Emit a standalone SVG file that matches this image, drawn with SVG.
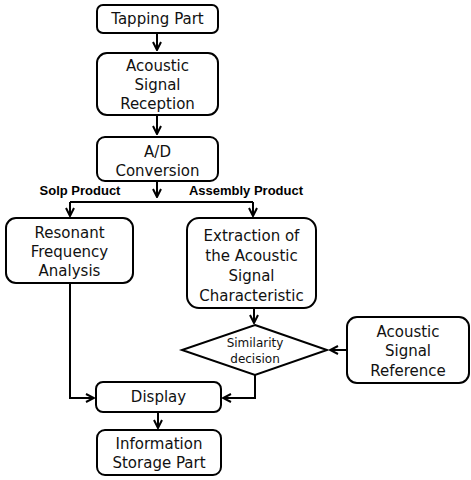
<svg xmlns="http://www.w3.org/2000/svg" width="471" height="480" viewBox="0 0 471 480">
<defs>
<marker id="ah" viewBox="0 0 10 10" refX="9" refY="5" markerWidth="10" markerHeight="10" markerUnits="userSpaceOnUse" orient="auto">
<path d="M1,1 L9,5 L1,9" fill="none" stroke="#000" stroke-width="2"/>
</marker>
</defs>
<style>
.box{fill:#fff;stroke:#000;stroke-width:2}
.t{font-family:"DejaVu Sans","Noto Sans",sans-serif;font-size:15px;fill:#111;text-anchor:middle;dominant-baseline:central}
.s{font-size:12px}
.b{font-family:"Liberation Sans",Arial,sans-serif;font-weight:bold;font-size:13px;fill:#000;text-anchor:middle;dominant-baseline:central}
.c{fill:none;stroke:#000;stroke-width:2}
</style>
<rect width="471" height="480" fill="#fff"/>
<g id="connectors">
<path class="c" d="M157,33 V50" marker-end="url(#ah)"/>
<path class="c" d="M157,115 V134" marker-end="url(#ah)"/>
<path class="c" d="M157,181 V197" marker-end="url(#ah)"/>
<path class="c" d="M70,202 H253"/>
<path class="c" d="M70,202 V216" marker-end="url(#ah)"/>
<path class="c" d="M253,202 V216" marker-end="url(#ah)"/>
<path class="c" d="M70,283 V398 H94" marker-end="url(#ah)"/>
<path class="c" d="M254,308 V323" marker-end="url(#ah)"/>
<path class="c" d="M346,350 H330" marker-end="url(#ah)"/>
<path class="c" d="M255,375 V398 H223" marker-end="url(#ah)"/>
<path class="c" d="M158,412 V428" marker-end="url(#ah)"/>
</g>
<g id="tapping"><rect class="box" x="97" y="5" width="121" height="28" rx="6"/><text class="t" x="157.5" y="19">Tapping Part</text></g>
<g id="reception"><rect class="box" x="97" y="53" width="121" height="62" rx="10"/><text class="t" x="157.5" y="66">Acoustic</text><text class="t" x="157.5" y="85">Signal</text><text class="t" x="157.5" y="104">Reception</text></g>
<g id="adconv"><rect class="box" x="97" y="137" width="121" height="44" rx="8"/><text class="t" x="157.5" y="152">A/D</text><text class="t" x="157.5" y="171">Conversion</text></g>
<text class="b" x="80" y="190">Solp Product</text>
<text class="b" x="246" y="190">Assembly Product</text>
<g id="resonant"><rect class="box" x="6" y="218" width="127" height="65" rx="10"/><text class="t" x="69.5" y="233">Resonant</text><text class="t" x="69.5" y="252">Frequency</text><text class="t" x="69.5" y="271">Analysis</text></g>
<g id="extraction"><rect class="box" x="187" y="218" width="129" height="90" rx="12"/><text class="t" x="251.5" y="236">Extraction  of</text><text class="t" x="251.5" y="256">the Acoustic</text><text class="t" x="251.5" y="276">Signal</text><text class="t" x="251.5" y="296">Characteristic</text></g>
<g id="similarity"><polygon class="box" points="255,325 327,350 255,375 182,350"/><text class="t s" x="255" y="343">Similarity</text><text class="t s" x="255" y="359">decision</text></g>
<g id="reference"><rect class="box" x="347" y="317" width="122" height="66" rx="10"/><text class="t" x="408" y="332">Acoustic</text><text class="t" x="408" y="351">Signal</text><text class="t" x="408" y="371">Reference</text></g>
<g id="display"><rect class="box" x="96" y="382" width="125" height="30" rx="7"/><text class="t" x="158.5" y="397">Display</text></g>
<g id="storage"><rect class="box" x="97" y="430" width="124" height="45" rx="8"/><text class="t" x="159" y="444">Information</text><text class="t" x="159" y="463">Storage Part</text></g>
</svg>
